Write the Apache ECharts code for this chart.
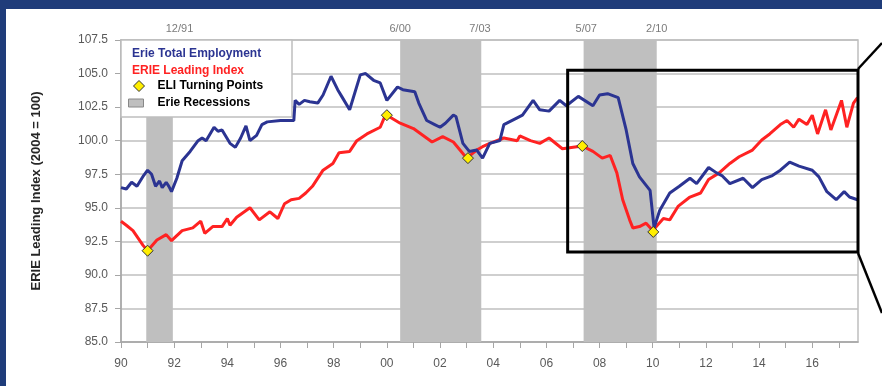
<!DOCTYPE html>
<html>
<head>
<meta charset="utf-8">
<script src="https://cdn.jsdelivr.net/npm/echarts@6/dist/echarts.min.js"></script>
<style>
  html, body { margin: 0; padding: 0; background: #fff; }
  #chart { width: 882px; height: 386px; }
</style>
</head>
<body>
<div id="chart"></div>
<script>
// Erie Total Employment (year, index)
const empYears = [1990.0, 1990.2, 1990.4, 1990.6, 1990.85, 1991.0, 1991.15, 1991.3, 1991.45, 1991.55, 1991.7, 1991.8, 1991.9,
  1992.1, 1992.3, 1992.6, 1992.9, 1993.05, 1993.2, 1993.5, 1993.65, 1993.8, 1994.1, 1994.3, 1994.5, 1994.7, 1994.85,
  1995.1, 1995.3, 1995.5, 1996.0, 1996.5, 1996.55, 1996.7, 1996.9, 1997.1, 1997.4, 1997.6, 1997.9, 1998.15, 1998.3,
  1998.6, 1999.0, 1999.2, 1999.5, 1999.75, 2000.0, 2000.4, 2000.6, 2001.05, 2001.2, 2001.5, 2001.8, 2002.0, 2002.2,
  2002.5, 2002.6, 2002.86, 2003.1, 2003.38, 2003.6, 2003.87, 2004.25, 2004.4, 2004.9, 2005.1, 2005.5, 2005.75, 2006.1,
  2006.5, 2006.75, 2007.2, 2007.75, 2008.0, 2008.3, 2008.7, 2009.0, 2009.25, 2009.5, 2009.9, 2010.05, 2010.26, 2010.64,
  2011.0, 2011.4, 2011.65, 2012.1, 2012.4, 2012.6, 2012.9, 2013.4, 2013.75, 2014.1, 2014.5, 2014.8, 2015.15, 2015.5,
  2016.0, 2016.25, 2016.55, 2016.9, 2017.2, 2017.4, 2017.7];
const empValues = [96.5, 96.4, 96.9, 96.6, 97.4, 97.8, 97.5, 96.6, 97.0, 96.5, 96.9, 96.6, 96.2,
  97.2, 98.5, 99.2, 100.0, 100.2, 100.0, 101.0, 100.7, 100.8, 99.8, 99.5, 100.2, 101.1, 100.0,
  100.4, 101.2, 101.4, 101.5, 101.5, 103.0, 102.7, 103.0, 102.9, 102.8, 103.4, 104.8, 103.8, 103.3,
  102.3, 104.9, 105.0, 104.5, 104.3, 103.0, 104.0, 103.8, 103.65, 102.8, 101.5, 101.2, 101.0, 101.3,
  101.9, 101.8, 99.8, 99.2, 99.3, 98.7, 99.8, 100.0, 101.2, 101.7, 101.9, 103.0, 102.3, 102.2,
  103.0, 102.6, 103.3, 102.6, 103.4, 103.5, 103.2, 100.8, 98.3, 97.3, 96.3, 93.5, 94.8, 96.1,
  96.6, 97.2, 96.8, 98.0, 97.6, 97.4, 96.8, 97.2, 96.5, 97.1, 97.4, 97.8, 98.4, 98.1,
  97.8, 97.3, 96.2, 95.6, 96.2, 95.8, 95.6];

// ERIE Leading Index (year, index)
const eliYears = [1990.0, 1990.2, 1990.45, 1990.83, 1991.0, 1991.35, 1991.7, 1991.9, 1992.3, 1992.7, 1993.0, 1993.15,
  1993.45, 1993.8, 1994.0, 1994.1, 1994.35, 1994.85, 1995.2, 1995.6, 1995.9, 1996.15, 1996.4, 1996.7, 1996.95, 1997.2,
  1997.6, 1997.97, 1998.2, 1998.6, 1998.87, 1999.25, 1999.75, 1999.9, 2000.0, 2000.5, 2001.0, 2001.35, 2001.7, 2002.1,
  2002.5, 2002.75, 2003.0, 2003.38, 2003.6, 2003.87, 2004.4, 2004.9, 2005.0, 2005.4, 2005.75, 2006.1, 2006.6, 2007.35,
  2007.75, 2008.1, 2008.4, 2008.65, 2008.87, 2009.13, 2009.25, 2009.5, 2009.75, 2010.0, 2010.4, 2010.64, 2010.95,
  2011.4, 2011.8, 2012.1, 2012.5, 2012.9, 2013.25, 2013.75, 2014.1, 2014.4, 2014.8, 2015.05, 2015.3, 2015.5, 2015.8,
  2016.0, 2016.2, 2016.5, 2016.7, 2017.1, 2017.3, 2017.55, 2017.7];
const eliValues = [94.0, 93.7, 93.3, 92.2, 91.8, 92.6, 93.0, 92.55, 93.3, 93.5, 94.0, 93.1,
  93.6, 93.6, 94.2, 93.7, 94.3, 95.0, 94.1, 94.7, 94.2, 95.3, 95.6, 95.7, 96.1, 96.6,
  97.8, 98.3, 99.1, 99.2, 100.0, 100.5, 101.0, 101.7, 101.9, 101.3, 100.9, 100.4, 99.9, 100.3,
  99.9, 99.3, 98.7, 99.3, 99.55, 99.8, 100.2, 100.0, 100.35, 100.0, 99.8, 100.2, 99.4, 99.6,
  99.2, 98.7, 98.9, 97.6, 95.6, 94.1, 93.5, 93.6, 93.85, 93.3, 94.2, 94.1, 95.1,
  95.8, 96.1, 97.1, 97.6, 98.3, 98.8, 99.3, 100.05, 100.5, 101.2, 101.5, 101.0, 101.6, 101.2,
  101.9, 100.5, 102.3, 100.8, 103.0, 101.0, 102.8, 103.2];

// ELI turning points
const tpYears = [1991.0, 2000.0, 2003.05, 2007.35, 2010.02];
const tpValues = [91.8, 101.9, 98.7, 99.6, 93.2];

// Erie recessions
const recStart = [1990.95, 2000.5, 2007.4];
const recEnd = [1991.95, 2003.55, 2010.15];
const recLabelYears = [1992.2, 2000.5, 2003.5, 2007.5, 2010.15];
const recLabelText = ['12/91', '6/00', '7/03', '5/07', '2/10'];

const xMin = 1990;
const xMax = 2017.72;
// detail box drawn over the recent period
const boxFrom = [2006.8, 105.25];
const boxTo = [xMax, 91.7];

const BLUE = '#2b3492';
const RED = '#ff2222';
const GRID = '#bfbfbf';
const FONT = '"Liberation Sans", Arial, sans-serif';

const pair = (xs, ys) => xs.map((x, i) => [x, ys[i]]);

const chart = echarts.init(document.getElementById('chart'));

const legendText = { fontWeight: 'bold', fontSize: 12, fontFamily: FONT, color: '#000' };

chart.setOption({
  backgroundColor: '#fff',
  animation: false,
  grid: {
    left: 121, right: 24, top: 40, bottom: 44,
    show: true, borderColor: GRID, borderWidth: 1.5
  },
  xAxis: {
    type: 'value',
    min: xMin,
    max: xMax,
    interval: 1,
    axisLine: { show: true, lineStyle: { color: '#a6a6a6', width: 1.5 } },
    axisTick: { show: true, length: 6, lineStyle: { color: '#a6a6a6' } },
    splitLine: { show: false },
    axisLabel: {
      margin: 16,
      color: '#595959',
      fontSize: 12,
      fontFamily: FONT,
      showMaxLabel: false,
      formatter: v => (v % 2 === 0 ? String(v % 100).padStart(2, '0') : '')
    }
  },
  yAxis: {
    type: 'value',
    min: 85,
    max: 107.5,
    interval: 2.5,
    name: 'ERIE Leading Index (2004 = 100)',
    nameLocation: 'middle',
    nameGap: 78,
    nameTextStyle: { fontWeight: 'bold', fontSize: 13, color: '#262626', fontFamily: FONT },
    axisLine: { show: true, lineStyle: { color: '#a6a6a6', width: 1.5 } },
    axisTick: { show: true, length: 6, lineStyle: { color: '#a6a6a6' } },
    splitLine: { lineStyle: { color: GRID, width: 1.5 } },
    axisLabel: {
      margin: 13,
      color: '#595959',
      fontSize: 12,
      fontFamily: FONT,
      formatter: v => v.toFixed(1)
    }
  },
  legend: [
    {
      orient: 'vertical',
      left: 127, top: 47,
      padding: 0,
      itemWidth: 0, itemHeight: 13, itemGap: 4,
      selectedMode: false,
      z: 6,
      textStyle: legendText,
      data: [
        { name: 'Erie Total Employment', icon: 'rect', textStyle: { color: BLUE } },
        { name: 'ERIE Leading Index', icon: 'rect', textStyle: { color: RED } }
      ]
    },
    {
      left: 133, top: 80,
      padding: 0,
      itemWidth: 11, itemHeight: 11,
      selectedMode: false,
      z: 6,
      textStyle: Object.assign({ padding: [0, 0, 0, 8] }, legendText),
      data: [
        { name: 'ELI Turning Points', icon: 'diamond',
          itemStyle: { color: '#ffee00', borderColor: '#333', borderWidth: 1 } }
      ]
    },
    {
      left: 128, top: 97,
      padding: 0,
      itemWidth: 15, itemHeight: 8,
      selectedMode: false,
      z: 6,
      textStyle: Object.assign({ padding: [0, 0, 0, 9] }, legendText),
      data: [
        { name: 'Erie Recessions', icon: 'rect',
          itemStyle: { color: '#bfbfbf', borderColor: '#888', borderWidth: 1 } }
      ]
    }
  ],
  graphic: [
    // page frame
    { type: 'rect', z: 10, shape: { x: 0, y: 0, width: 882, height: 9 }, style: { fill: '#1f3c7a' } },
    { type: 'rect', z: 10, shape: { x: 0, y: 0, width: 6, height: 386 }, style: { fill: '#1f3c7a' } },
    // legend box
    { type: 'rect', z: 3, shape: { x: 121, y: 40, width: 171, height: 77 },
      style: { fill: '#fff', stroke: GRID, lineWidth: 1.5 } },
    // leader lines to the (cropped) inset
    { type: 'line', z: 10, shape: { x1: 858, y1: 69, x2: 882, y2: 43 }, style: { stroke: '#000', lineWidth: 2.5 } },
    { type: 'line', z: 10, shape: { x1: 858, y1: 253, x2: 882, y2: 313 }, style: { stroke: '#000', lineWidth: 2.5 } }
  ],
  series: [
    {
      name: 'Erie Recessions',
      type: 'line',
      data: [],
      itemStyle: { color: '#bfbfbf' },
      markArea: {
        silent: true,
        itemStyle: { color: '#bfbfbf', opacity: 1 },
        data: recStart.map((s, i) => [{ xAxis: s }, { xAxis: recEnd[i] }])
      }
    },
    {
      name: 'Erie Total Employment',
      type: 'line',
      data: pair(empYears, empValues),
      symbol: 'none',
      lineStyle: { color: BLUE, width: 3 },
      itemStyle: { color: BLUE },
      z: 3
    },
    {
      name: 'ERIE Leading Index',
      type: 'line',
      data: pair(eliYears, eliValues),
      symbol: 'none',
      lineStyle: { color: RED, width: 3 },
      itemStyle: { color: RED },
      z: 2
    },
    {
      name: 'ELI Turning Points',
      type: 'scatter',
      data: pair(tpYears, tpValues),
      symbol: 'diamond',
      symbolSize: 11,
      itemStyle: { color: '#ffee00', borderColor: '#333', borderWidth: 1, opacity: 1 },
      z: 5
    },
    {
      name: 'recLabels',
      type: 'scatter',
      clip: false,
      silent: true,
      symbolSize: 0,
      data: recLabelYears.map(x => [x, 107.5]),
      label: {
        show: true,
        position: 'top',
        distance: 6,
        color: '#595959',
        fontSize: 11,
        fontFamily: FONT,
        formatter: p => recLabelText[p.dataIndex]
      }
    },
    {
      name: 'detailBox',
      type: 'line',
      data: [],
      markArea: {
        silent: true,
        z: 4,
        itemStyle: { color: 'rgba(0,0,0,0)', borderColor: '#000', borderWidth: 3 },
        data: [[{ coord: boxFrom }, { coord: boxTo }]]
      }
    }
  ]
});
</script>
</body>
</html>
